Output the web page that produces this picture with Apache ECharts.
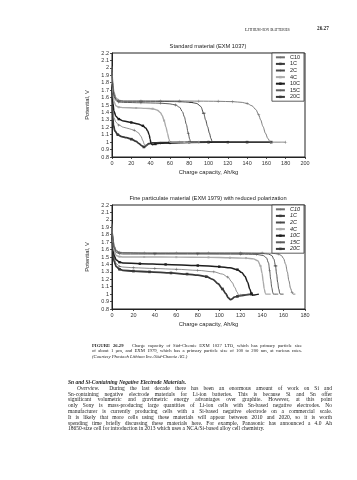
<!DOCTYPE html>
<html><head><meta charset="utf-8">
<script src="https://cdn.jsdelivr.net/npm/echarts/dist/echarts.min.js"></script>
<style>
html,body{margin:0;padding:0;background:#fff;}
#page{position:relative;width:357px;height:480px;overflow:hidden;background:#fff;}
#chart{position:absolute;left:0;top:0;width:357px;height:480px;}
.t{position:absolute;white-space:nowrap;transform:scale(0.5);transform-origin:0 0;font-family:"Liberation Serif","Times New Roman",serif;color:#222;}
.b{font-size:11px;line-height:11px;}
.c{font-size:9.4px;line-height:10px;}
.j{text-align:justify;text-align-last:justify;}
</style></head>
<body><div id="page">
<div id="chart"></div>
<div class="t" style="left:245px;top:25.5px;font-size:10px;font-variant:small-caps;">Lithium-Ion Batteries</div>
<div class="t" style="left:317px;top:25.3px;font-size:10.5px;font-weight:bold;">26.27</div>

<div class="t c j" style="left:92px;top:342.5px;width:420px;"><b>FIGURE 26.29</b>&nbsp;&nbsp;&nbsp;Charge capacity of Süd-Chemie EXM 1037 LTO, which has primary particle size</div>
<div class="t c j" style="left:92px;top:348.2px;width:420px;">of about 1 µm, and EXM 1979, which has a primary particle size of 100 to 200 nm, at various rates.</div>
<div class="t c" style="left:92px;top:353.9px;"><i>(Courtesy Phostech Lithium Inc./Süd-Chemie AG.)</i></div>

<div class="t b" style="left:68px;top:379px;font-weight:bold;font-style:italic;">Sn and Si-Containing Negative Electrode Materials.</div>
<div class="t b j" style="left:77px;top:384.7px;width:510px;"><i>Overview.</i>&nbsp;&nbsp;During the last decade there has been an enormous amount of work on Si and</div>
<div class="t b j" style="left:68px;top:390.5px;width:528px;">Sn-containing negative electrode materials for Li-ion batteries. This is because Si and Sn offer</div>
<div class="t b j" style="left:68px;top:396.3px;width:528px;">significant volumetric and gravimetric energy advantages over graphite. However, at this point</div>
<div class="t b j" style="left:68px;top:402.1px;width:528px;">only Sony is mass-producing large quantities of Li-ion cells with Sn-based negative electrodes. No</div>
<div class="t b j" style="left:68px;top:407.9px;width:528px;">manufacturer is currently producing cells with a Si-based negative electrode on a commercial scale.</div>
<div class="t b j" style="left:68px;top:413.7px;width:528px;">It is likely that more cells using these materials will appear between 2010 and 2020, so it is worth</div>
<div class="t b j" style="left:68px;top:419.5px;width:528px;">spending time briefly discussing these materials here. For example, Panasonic has announced a 4.0 Ah</div>
<div class="t b" style="left:68px;top:425.3px;">18650-size cell for introduction in 2013 which uses a NCA/Si-based alloy cell chemistry.</div>
</div>
<script>
// ---- Data ----
const rates = ['C10', '1C', '2C', '4C', '10C', '15C', '20C'];
const chartTitles = ['Standard material (EXM 1037)', 'Fine particulate material (EXM 1979) with reduced polarization'];
const xMaxes = [200, 180];

// Standard material (EXM 1037): [capacity Ah/kg, potential V]
const std_C10 = [[0,2.02],[1,1.8],[2,1.68],[4,1.6],[7,1.565],[12,1.555],[30,1.555],[50,1.555],[70,1.554],[90,1.552],[110,1.55],[125,1.545],[135,1.535],[140,1.52],[145,1.49],[149,1.44],[152,1.37],[154,1.3],[156.5,1.21],[159,1.12],[161.5,1.05],[164,1.0],[172,1.0],[180,1.0]];
const std_1C = [[0,1.98],[1,1.75],[2,1.65],[4,1.58],[7,1.555],[12,1.55],[30,1.55],[50,1.548],[70,1.545],[82,1.535],[88,1.52],[92,1.48],[95,1.39],[97,1.3],[99,1.21],[101,1.12],[102.5,1.05],[104,1.0],[120,1.0],[140,1.0]];
const std_2C = [[0,1.95],[1,1.72],[2,1.62],[4,1.56],[7,1.54],[12,1.535],[30,1.53],[50,1.525],[60,1.515],[66,1.5],[70,1.47],[73,1.41],[75,1.34],[77,1.24],[79,1.12],[80.5,1.04],[81.5,1.0],[90,1.0],[100,1.0]];
const std_4C = [[0,1.9],[1,1.65],[2,1.55],[4,1.49],[7,1.47],[12,1.465],[25,1.46],[35,1.455],[42,1.45],[47,1.43],[50,1.4],[52,1.36],[54,1.29],[56,1.2],[57.5,1.12],[59,1.04],[60,1.0],[75,1.0],[90,1.0]];
const std_10C = [[0,1.78],[0.5,1.62],[1,1.52],[2,1.42],[4,1.35],[7,1.31],[12,1.285],[20,1.265],[27,1.245],[32,1.22],[35,1.19],[37,1.15],[38.5,1.1],[39.5,1.04],[40.5,0.98],[42,0.965],[45,0.975],[50,0.985],[60,0.99],[80,1.0],[120,1.0]];
const std_15C = [[0,1.72],[0.5,1.52],[1,1.42],[2,1.33],[4,1.27],[7,1.23],[12,1.2],[18,1.18],[23,1.16],[27,1.13],[30,1.08],[32,1.02],[33.5,0.97],[35,0.95],[37,0.965],[40,0.975],[50,0.985],[70,1.0],[90,1.0]];
const std_20C = [[0,1.75],[0.3,1.5],[0.7,1.35],[1.5,1.23],[3,1.15],[6,1.1],[10,1.075],[15,1.06],[20,1.04],[25,1.01],[28,0.98],[31,0.95],[33,0.935],[34.5,0.94],[36,0.96],[38,0.98],[42,0.99],[60,0.995],[100,1.0],[140,1.0],[165,1.0]];

// Fine particulate material (EXM 1979)
const fine_C10 = [[0,1.95],[1,1.75],[2,1.65],[4,1.59],[7,1.565],[10,1.56],[30,1.555],[60,1.555],[90,1.555],[120,1.555],[140,1.553],[150,1.55],[155,1.54],[158,1.52],[160,1.48],[162,1.4],[163.5,1.3],[165,1.18],[166.5,1.08],[168,1.02],[169,1.0],[171,1.0]];
const fine_1C = [[0,1.93],[1,1.74],[2,1.64],[4,1.58],[7,1.56],[10,1.555],[40,1.55],[80,1.55],[120,1.55],[140,1.548],[146,1.54],[149,1.52],[151,1.47],[152.5,1.38],[153.5,1.27],[154.5,1.16],[155.5,1.07],[156.5,1.01],[157,1.0],[160,1.0]];
const fine_2C = [[0,1.92],[1,1.72],[2,1.62],[4,1.56],[7,1.545],[10,1.54],[40,1.54],[80,1.54],[120,1.538],[135,1.535],[141,1.52],[144,1.49],[146,1.42],[147,1.32],[148,1.2],[149,1.09],[150,1.02],[150.5,1.0],[155,1.0]];
const fine_4C = [[0,1.9],[1,1.68],[2,1.58],[4,1.52],[7,1.505],[10,1.5],[30,1.5],[60,1.498],[90,1.495],[110,1.49],[125,1.485],[132,1.475],[136,1.45],[138.5,1.38],[140,1.28],[141,1.17],[142,1.07],[143,1.01],[143.5,1.0],[148,1.0]];
const fine_10C = [[0,1.88],[1,1.62],[2,1.52],[4,1.46],[7,1.43],[10,1.42],[26,1.41],[50,1.4],[80,1.385],[100,1.37],[110,1.355],[117,1.33],[121,1.29],[124,1.24],[126.5,1.16],[128.5,1.07],[130,1.01],[131,0.985],[133,0.99],[137,1.0]];
const fine_15C = [[0,1.85],[1,1.58],[2,1.48],[4,1.41],[7,1.375],[10,1.365],[20,1.355],[40,1.345],[60,1.335],[80,1.32],[95,1.3],[103,1.27],[108,1.23],[112,1.16],[114.5,1.09],[116.5,1.03],[118,0.99],[120,0.985],[124,0.995],[128,1.0]];
const fine_20C = [[0,1.83],[1,1.55],[2,1.44],[4,1.37],[7,1.335],[10,1.32],[20,1.31],[35,1.3],[55,1.285],[70,1.27],[80,1.255],[88,1.235],[94,1.2],[99,1.14],[103,1.07],[106,1.01],[108.5,0.95],[110.5,0.925],[112,0.935],[114,0.96],[117,0.97],[120,0.98],[125,0.99],[130,1.0]];

const stdData = [std_C10, std_1C, std_2C, std_4C, std_10C, std_15C, std_20C];
const fineData = [fine_C10, fine_1C, fine_2C, fine_4C, fine_10C, fine_15C, fine_20C];

// ---- Styles ----
const PLUS = 'path://M3.4,0H4.6V3.4H8V4.6H4.6V8H3.4V4.6H0V3.4H3.4Z';
const looks = [
  {color:'#707070', width:0.9, symbol:PLUS, size:3},
  {color:'#3a3a3a', width:0.9, symbol:'rect', size:[3.5,1]},
  {color:'#4a4a4a', width:0.9, symbol:PLUS, size:2.8},
  {color:'#ababab', width:1.4, symbol:'rect', size:2},
  {color:'#1e1e1e', width:1.5, symbol:'rect', size:2.4},
  {color:'#5e5e5e', width:0.7, symbol:PLUS, size:2.8},
  {color:'#383838', width:1.8, symbol:'rect', size:2.6}
];
const FONT = '"Liberation Sans", Arial, sans-serif';

function withMarkers(data) {
  let last = -999;
  return data.map(function (p) {
    const show = p[0] >= 5 && p[0] - last >= 12;
    if (show) { last = p[0]; return {value: p}; }
    return {value: p, symbol: 'none'};
  });
}

const gridTops = [53, 205];
const grids = gridTops.map(t => ({left:112, top:t, width:193, height:104, show:true, borderColor:'#222', borderWidth:1, backgroundColor:'transparent'}));

const xAxes = xMaxes.map((mx, i) => ({
  gridIndex:i, type:'value', min:0, max:mx, interval:20,
  name:'Charge capacity, Ah/kg', nameLocation:'middle', nameGap:12,
  nameTextStyle:{fontSize:5.8, color:'#222', fontFamily:FONT},
  axisLine:{lineStyle:{color:'#222', width:1}},
  axisTick:{length:2, lineStyle:{color:'#222', width:0.8}},
  axisLabel:{fontSize:5.5, color:'#333', margin:3, fontFamily:FONT},
  splitLine:{show:false}
}));
const yAxes = [0,1].map(i => ({
  gridIndex:i, type:'value', min:0.8, max:2.2, interval:0.1,
  name:'Potential, V', nameLocation:'middle', nameGap:11,
  nameTextStyle:{fontSize:5.8, color:'#222', fontFamily:FONT},
  axisLine:{lineStyle:{color:'#222', width:1}},
  axisTick:{length:2, lineStyle:{color:'#222', width:0.8}},
  axisLabel:{fontSize:5.5, color:'#333', margin:3, fontFamily:FONT, formatter: v => String(Math.round(v*10)/10)},
  splitLine:{show:false}
}));

const series = [];
[stdData, fineData].forEach((set, gi) => {
  set.forEach((d, k) => {
    const lk = looks[k];
    series.push({
      type:'line', name:rates[k], xAxisIndex:gi, yAxisIndex:gi,
      data:withMarkers(d), smooth:0.3, smoothMonotone:'x',
      symbol:lk.symbol, symbolSize:lk.size, showSymbol:true,
      lineStyle:{color:lk.color, width:lk.width},
      itemStyle:{color:lk.color},
      animation:false, z:2 + (7-k)*0.01
    });
  });
});

const legends = gridTops.map((t, i) => ({
  data:rates, orient:'vertical', right:53, top:t,
  itemWidth:9, itemHeight:3, itemGap:0, padding:[1,4,1,3],
  borderColor:'#333', borderWidth:0.8, backgroundColor:'#fff',
  selectedMode:false,
  textStyle:{fontSize:5.5, color:'#222', fontFamily:FONT, lineHeight:6.6, fontStyle: i===1 ? 'italic' : 'normal'}
}));

const graphic = chartTitles.map((txt, i) => ({
  type:'text', x:208, y:gridTops[i] - 7,
  style:{text:txt, font:'5.7px ' + FONT, fill:'#222', textAlign:'center', textVerticalAlign:'middle'}
}));

const chart = echarts.init(document.getElementById('chart'), null, {renderer:'canvas'});
chart.setOption({
  animation:false,
  backgroundColor:'transparent',
  grid:grids, xAxis:xAxes, yAxis:yAxes,
  legend:legends, graphic:graphic, series:series
});
</script>
</body></html>
